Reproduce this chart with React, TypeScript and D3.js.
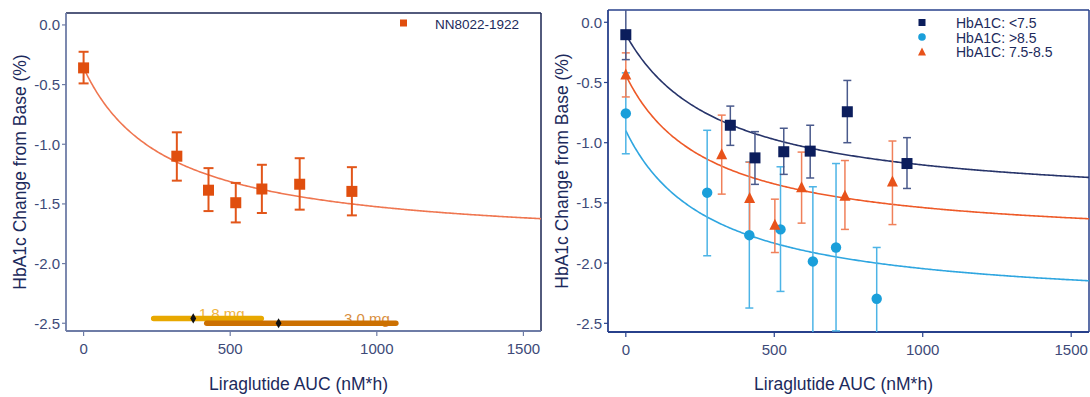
import React from "react";
import * as d3 from "d3";

// ---------- data ----------
const xTicks = [0, 500, 1000, 1500];
const yTicks = [0, -0.5, -1.0, -1.5, -2.0, -2.5];

// Left panel: NN8022-1922
const studyX = [0, 318, 426, 519, 608, 737, 915];
const studyY = [-0.36, -1.1, -1.385, -1.49, -1.375, -1.335, -1.395];
const studyLo = [-0.49, -1.305, -1.56, -1.655, -1.576, -1.548, -1.596];
const studyHi = [-0.225, -0.9, -1.2, -1.324, -1.172, -1.117, -1.192];
// Emax curve parameters [E0, Emax, EC50]
const studyCurve = [-0.36, -1.493, 283];

// dose exposure ranges: [lo, median, hi, y]
const dose18 = [239, 374, 606, -2.46];
const dose30 = [420, 665, 1065, -2.5];
const doseLabels = ["1.8 mg", "3.0 mg"];
const doseLabelX = [393, 888];

// Right panel: HbA1C subgroups
const lowX = [0, 352, 435, 532, 621, 746, 947];
const lowY = [-0.103, -0.855, -1.126, -1.075, -1.07, -0.743, -1.173];
const lowLo = [-0.31, -1.022, -1.346, -1.263, -1.293, -1.0, -1.38];
const lowHi = [0.11, -0.696, -0.908, -0.88, -0.855, -0.483, -0.958];
const lowCurve = [-0.1, -1.432, 320];

const highX = [0, 274, 416, 521, 630, 708, 845];
const highY = [-0.757, -1.415, -1.768, -1.72, -1.986, -1.87, -2.296];
const highLo = [-1.092, -1.939, -2.373, -2.235, -2.606, -2.563, -2.72];
const highHi = [-0.42, -0.897, -1.159, -1.2, -1.366, -1.173, -1.87];
const highCurve = [-0.9, -1.479, 291];

const midX = [0, 323, 417, 502, 592, 738, 898];
const midY = [-0.441, -1.103, -1.466, -1.688, -1.377, -1.447, -1.33];
const midLo = [-0.62, -1.427, -1.765, -1.912, -1.668, -1.72, -1.68];
const midHi = [-0.254, -0.771, -1.162, -1.469, -1.078, -1.148, -0.986];
const midCurve = [-0.44, -1.404, 278];

const legendLabels = ["HbA1C: <7.5", "HbA1C: >8.5", "HbA1C: 7.5-8.5"];

// ---------- helpers ----------
const FONT = "Liberation Sans, Arial, Helvetica, sans-serif";
const emax = (p: number[], x: number) => p[0] + (p[1] * x) / (p[2] + x);

type Panel = { x0: number; x1: number; y0: number; y1: number; yDom: [number, number] };

function makeScales(p: Panel) {
  const x = d3.scaleLinear().domain([-60, 1560]).range([p.x0, p.x1]);
  const y = d3.scaleLinear().domain(p.yDom).range([p.y1, p.y0]);
  return { x, y };
}

function Axes({ p, id, leftColor, frameColor }: { p: Panel; id: string; leftColor: string; frameColor: string }) {
  const { x, y } = makeScales(p);
  const tickCol = "#3d4a78";
  return (
    <g>
      {/* frame top/right */}
      <line x1={p.x0} x2={p.x1} y1={p.y0} y2={p.y0} stroke={frameColor} strokeWidth={1.5} />
      <line x1={p.x1} x2={p.x1} y1={p.y0} y2={p.y1} stroke={frameColor} strokeWidth={1.5} />
      {/* axis lines */}
      <line x1={p.x0} x2={p.x0} y1={p.y0} y2={p.y1} stroke={leftColor} strokeWidth={1.8} />
      <line x1={p.x0} x2={p.x1} y1={p.y1} y2={p.y1} stroke={leftColor} strokeWidth={1.8} />
      {yTicks.map((t) => (
        <g key={"y" + t}>
          <line x1={p.x0 - 4} x2={p.x0} y1={y(t)} y2={y(t)} stroke={leftColor} strokeWidth={1.2} />
          <text x={p.x0 - 6} y={y(t)} textAnchor="end" dominantBaseline="central" fontSize={15} fill={tickCol} fontFamily={FONT}>
            {d3.format(".1f")(t).replace("−", "-")}
          </text>
        </g>
      ))}
      {xTicks.map((t) => (
        <g key={"x" + t}>
          <line x1={x(t)} x2={x(t)} y1={p.y1} y2={p.y1 + 5} stroke={leftColor} strokeWidth={1.2} />
          <text x={x(t)} y={p.y1 + 17} textAnchor="middle" dominantBaseline="central" fontSize={15} fill={tickCol} fontFamily={FONT}>
            {t}
          </text>
        </g>
      ))}
      <text
        x={(p.x0 + p.x1) / 2 - 5}
        y={384}
        textAnchor="middle"
        dominantBaseline="central"
        fontSize={17.5}
        fill="#1c2a5c"
        fontFamily={FONT}
      >
        Liraglutide AUC (nM*h)
      </text>
      <text
        transform={`translate(${p.x0 - 46},${(p.y0 + p.y1) / 2}) rotate(-90)`}
        textAnchor="middle"
        dominantBaseline="central"
        fontSize={17.5}
        fill="#1c2a5c"
        fontFamily={FONT}
      >
        HbA1c Change from Base (%)
      </text>
      <clipPath id={id}>
        <rect x={p.x0} y={p.y0} width={p.x1 - p.x0} height={p.y1 - p.y0} />
      </clipPath>
    </g>
  );
}

function curvePath(p: Panel, params: number[]) {
  const { x, y } = makeScales(p);
  const xs = d3.range(0, 1561, 5);
  return d3
    .line<number>()
    .x((v) => x(v))
    .y((v) => y(emax(params, v)))(xs) as string;
}

function ErrorBars({ p, xs, lo, hi, color, cap, width }: { p: Panel; xs: number[]; lo: number[]; hi: number[]; color: string; cap: number; width: number }) {
  const { x, y } = makeScales(p);
  return (
    <g stroke={color} strokeWidth={width} fill="none">
      {xs.map((v, i) => (
        <g key={i}>
          <line x1={x(v)} x2={x(v)} y1={y(lo[i])} y2={y(hi[i])} />
          <line x1={x(v) - cap / 2} x2={x(v) + cap / 2} y1={y(lo[i])} y2={y(lo[i])} />
          <line x1={x(v) - cap / 2} x2={x(v) + cap / 2} y1={y(hi[i])} y2={y(hi[i])} />
        </g>
      ))}
    </g>
  );
}

const triPath = (cx: number, cy: number, s: number) =>
  `M${cx},${cy - s * 0.62}L${cx + s / 2},${cy + s * 0.38}L${cx - s / 2},${cy + s * 0.38}Z`;

export default function App() {
  const L: Panel = { x0: 66, x1: 541, y0: 13, y1: 331, yDom: [-2.565, 0.1] };
  const R: Panel = { x0: 608, x1: 1089, y0: 10, y1: 332, yDom: [-2.572, 0.102] };
  const sL = makeScales(L);
  const sR = makeScales(R);

  const orangeL = "#e04e0e";
  const navy = "#0b1d5c";
  const blue = "#1a9fda";
  const orangeR = "#e8521a";

  return (
    <svg width={1090} height={397} style={{ position: "absolute", left: 0, top: 0, background: "#fff" }} fontFamily={FONT}>
      <rect width={1090} height={397} fill="#fff" />
      {/* ---------- left panel ---------- */}
      <Axes p={L} id="clipL" leftColor="#6e7ca6" frameColor="#1a2452" />
      <g clipPath="url(#clipL)">
        {/* dose labels */}
        <text x={sL.x(doseLabelX[0])} y={sL.y(dose18[3]) + 1} fontSize={15} fill="#f0b440" fontFamily={FONT}>
          {doseLabels[0]}
        </text>
        <text x={sL.x(doseLabelX[1])} y={sL.y(dose30[3]) + 1} fontSize={15} fill="#d98e3e" fontFamily={FONT}>
          {doseLabels[1]}
        </text>
        <line x1={sL.x(dose18[0])} x2={sL.x(dose18[2])} y1={sL.y(dose18[3])} y2={sL.y(dose18[3])} stroke="#e8a800" strokeWidth={5.5} strokeLinecap="round" />
        <line x1={sL.x(dose30[0])} x2={sL.x(dose30[2])} y1={sL.y(dose30[3])} y2={sL.y(dose30[3])} stroke="#cc7000" strokeWidth={5.5} strokeLinecap="round" />
        <path d={d3.symbol(d3.symbolDiamond, 30)() as string} transform={`translate(${sL.x(dose18[1])},${sL.y(dose18[3])})`} fill="#111" />
        <path d={d3.symbol(d3.symbolDiamond, 30)() as string} transform={`translate(${sL.x(dose30[1])},${sL.y(dose30[3])})`} fill="#111" />

        <path d={curvePath(L, studyCurve)} fill="none" stroke="#ef7650" strokeWidth={1.6} />
        <ErrorBars p={L} xs={studyX} lo={studyLo} hi={studyHi} color="#e2561a" cap={10} width={2} />
        {studyX.map((v, i) => (
          <rect key={i} x={sL.x(v) - 5.5} y={sL.y(studyY[i]) - 5.5} width={11} height={11} fill={orangeL} />
        ))}
      </g>
      <rect x={400} y={19.5} width={7} height={7} fill={orangeL} />
      <text x={435} y={24.5} dominantBaseline="central" fontSize={13.5} fill="#1c2a5c" fontFamily={FONT}>
        NN8022-1922
      </text>

      {/* ---------- right panel ---------- */}
      <Axes p={R} id="clipR" leftColor="#27408b" frameColor="#27408b" />
      <g clipPath="url(#clipR)">
        <path d={curvePath(R, highCurve)} fill="none" stroke="#2fa6e0" strokeWidth={1.6} />
        <path d={curvePath(R, midCurve)} fill="none" stroke="#ee5a28" strokeWidth={1.6} />
        <path d={curvePath(R, lowCurve)} fill="none" stroke="#27346a" strokeWidth={1.6} />

        <ErrorBars p={R} xs={highX} lo={highLo} hi={highHi} color="#4db4e6" cap={8} width={1.5} />
        <ErrorBars p={R} xs={midX} lo={midLo} hi={midHi} color="#f0805a" cap={8} width={1.5} />
        <ErrorBars p={R} xs={lowX} lo={lowLo} hi={lowHi} color="#4a5a8c" cap={8} width={1.5} />

        {highX.map((v, i) => (
          <circle key={"h" + i} cx={sR.x(v)} cy={sR.y(highY[i])} r={5.2} fill={blue} />
        ))}
        {midX.map((v, i) => (
          <path key={"m" + i} d={triPath(sR.x(v), sR.y(midY[i]), 11)} fill={orangeR} />
        ))}
        {lowX.map((v, i) => (
          <rect key={"l" + i} x={sR.x(v) - 5.5} y={sR.y(lowY[i]) - 5.5} width={11} height={11} fill={navy} />
        ))}
      </g>
      {/* legend */}
      <rect x={918.5} y={19} width={7} height={7} fill={navy} />
      <circle cx={922} cy={37} r={3.8} fill={blue} />
      <path d={triPath(922, 52.5, 8)} fill={orangeR} />
      {legendLabels.map((t, i) => (
        <text key={t} x={956} y={23 + i * 14.5} dominantBaseline="central" fontSize={14} fill="#1c2a5c" fontFamily={FONT}>
          {t}
        </text>
      ))}
    </svg>
  );
}
